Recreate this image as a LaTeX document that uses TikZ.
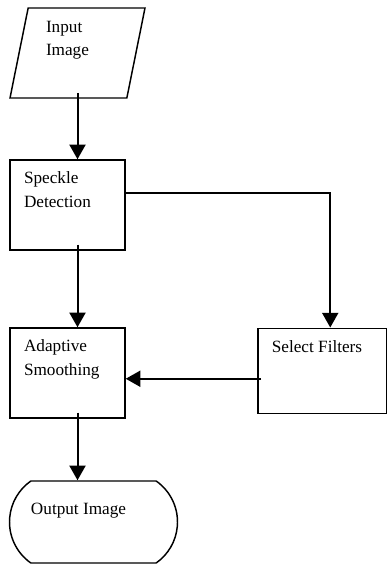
\documentclass[tikz,border=0pt]{standalone}
\usepackage{fontspec}
\setmainfont{Liberation Serif}
\usepackage{tikz}
\usetikzlibrary{arrows.meta, calc, shapes.geometric, shapes.misc}

\tikzset{
  stepbox/.style={draw, line width=1.1pt, inner xsep=10.5pt, inner ysep=9pt, font=\fontsize{12.9pt}{17.5pt}\selectfont},
  inbox/.style={draw, line width=1.1pt, trapezium, trapezium left angle=74, trapezium right angle=106,
    trapezium stretches body, inner sep=0pt, minimum width=101.25pt, minimum height=67.5pt,
    font=\fontsize{12.9pt}{17.5pt}\selectfont},
  outbox/.style={draw, line width=1.1pt, rounded rectangle, rounded rectangle arc length=110,
    inner sep=0pt, minimum width=126pt, minimum height=61.5pt, font=\fontsize{12.9pt}{17.5pt}\selectfont},
  arr/.style={line width=1.5pt, -{Triangle[width=12pt,length=11pt]}}
}
\newcommand{\toptext}[3]{\parbox[t][#2][t]{#1}{\raggedright #3}}

\begin{document}
\begin{tikzpicture}[x=0.75pt, y=-0.75pt]
    \useasboundingbox (0,0) rectangle (388,565);

    % Draw the steps
    \node[inbox] (inp) at (77.5,53) {\toptext{47.25pt}{47.5pt}{Input\\Image}};
    \node[stepbox] (spk) at (67.5,205) {\toptext{65.25pt}{49.5pt}{Speckle\\Detection}};
    \node[stepbox] (ada) at (67.5,373) {\toptext{65.25pt}{49.5pt}{Adaptive\\Smoothing}};
    \node[stepbox] (sel) at (322.25,370.75) {\toptext{75.6pt}{45.75pt}{Select Filters}};
    \node[outbox] (out) at (93.5,522) {\toptext{93.75pt}{29pt}{Output Image}};

    % Points where the connectors leave the boxes
    \coordinate (inpout) at ($(inp.south)+(0,-6)$);
    \coordinate (spkout) at ($(spk.south -| inp.south)+(0,-6)$);
    \coordinate (adaout) at ($(ada.south -| inp.south)+(0,-6)$);
    \coordinate (spkright) at ($(spk.east)+(0,-12)$);
    \coordinate (selin) at ($(sel.north)+(8,0)$);
    \coordinate (selout) at ($(sel.west)+(4,8)$);

    % Draw the connectors
    \draw[arr] (inpout) -- (inpout |- spk.north);
    \draw[arr] (spkout) -- (spkout |- ada.north);
    \draw[arr] (adaout) -- (adaout |- out.north);
    \draw[arr] (spkright) -| (selin);
    \draw[arr] (selout) -- (selout -| ada.east);
\end{tikzpicture}
\end{document}
